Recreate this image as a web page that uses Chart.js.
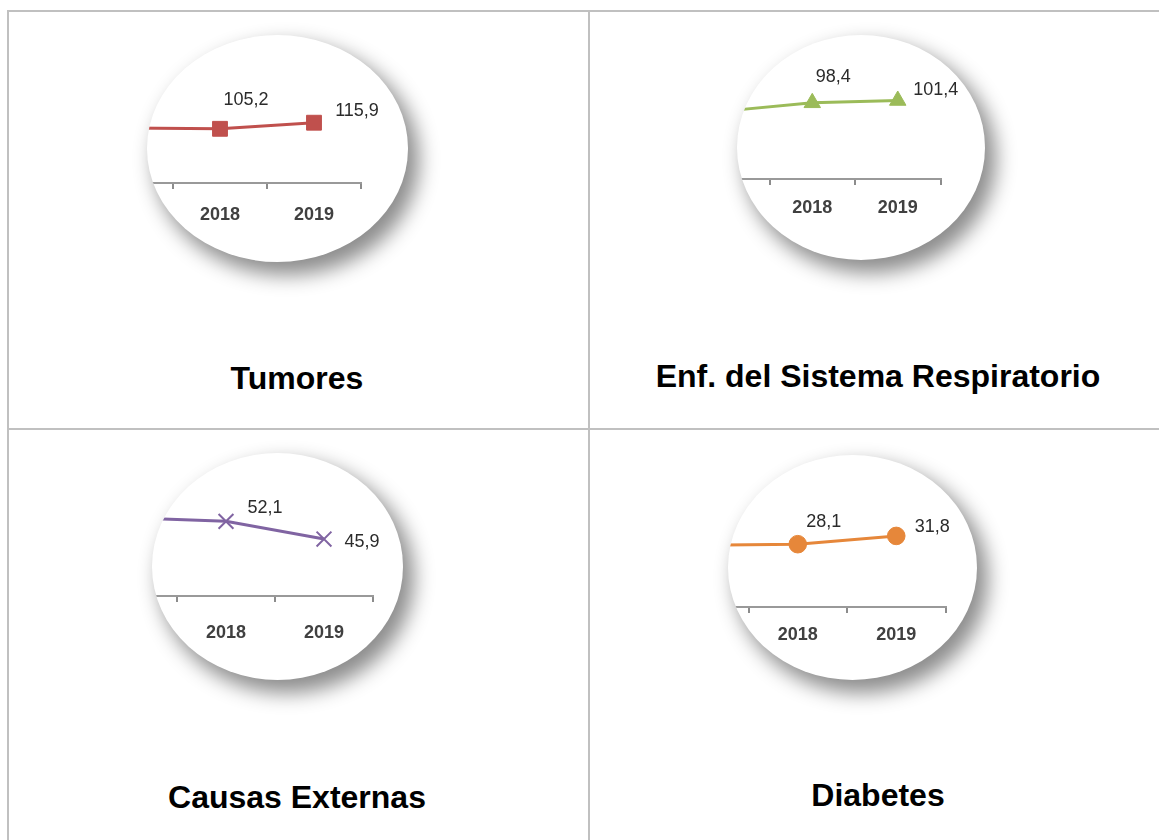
<!DOCTYPE html>
<html lang="es">
<head>
<meta charset="UTF-8">
<title>Tasas de mortalidad por causa</title>
<style>
  body {
    margin: 0;
    width: 1159px;
    height: 840px;
    overflow: hidden;
    position: relative;
    background: #fff;
    font-family: "Liberation Sans", Arial, sans-serif;
  }
  .rule { position: absolute; background: #c0c0c0; }
  .lens {
    position: absolute;
    border-radius: 50%;
    overflow: hidden;
    background: #fff;
    box-shadow: 9px 11px 20px 2px rgba(0, 0, 0, 0.45);
  }
  .lens .wrap { position: absolute; }
  .title {
    position: absolute;
    width: 560px;
    text-align: center;
    font-weight: bold;
    font-size: 32px;
    line-height: 32px;
    color: #000;
  }
</style>
</head>
<body>
  <!-- bordes de la tabla -->
  <div class="rule" style="left:7px;top:10px;width:2px;height:830px"></div>
  <div class="rule" style="left:7px;top:10px;width:1152px;height:2px"></div>
  <div class="rule" style="left:588px;top:10px;width:2px;height:830px"></div>
  <div class="rule" style="left:7px;top:428px;width:1152px;height:2px"></div>

  <div class="lens" id="lens1"><div class="wrap"><canvas id="c1"></canvas></div></div>
  <div class="lens" id="lens2"><div class="wrap"><canvas id="c2"></canvas></div></div>
  <div class="lens" id="lens3"><div class="wrap"><canvas id="c3"></canvas></div></div>
  <div class="lens" id="lens4"><div class="wrap"><canvas id="c4"></canvas></div></div>

  <div class="title" style="left:17px;top:362px">Tumores</div>
  <div class="title" style="left:598px;top:360px">Enf. del Sistema Respiratorio</div>
  <div class="title" style="left:17px;top:781px">Causas Externas</div>
  <div class="title" style="left:598px;top:779px">Diabetes</div>

  <script src="https://cdn.jsdelivr.net/npm/chart.js"></script>
  <script>
    // datos
    const years = ['2017', '2018', '2019'];
    const tumores = [106.5, 105.2, 115.9];
    const respiratorio = [88.0, 98.4, 101.4];
    const externas = [53.4, 52.1, 45.9];
    const diabetes = [27.6, 28.1, 31.8];

    // etiquetas de valor (coma decimal)
    const valueLabels = {
      id: 'valueLabels',
      afterDatasetsDraw(chart, args, opts) {
        const ctx = chart.ctx;
        const meta = chart.getDatasetMeta(0);
        const values = chart.data.datasets[0].data;
        ctx.save();
        ctx.font = '18px "Liberation Sans", Arial, sans-serif';
        ctx.fillStyle = '#2b2b2b';
        ctx.textAlign = 'center';
        ctx.textBaseline = 'middle';
        meta.data.forEach((pt, i) => {
          const s = opts.shifts[i];
          if (!s) return;
          ctx.fillText(values[i].toFixed(1).replace('.', ','), pt.x + s[0], pt.y + s[1]);
        });
        ctx.restore();
      }
    };

    // box: [left, top, width, height] de la lupa; axisRight/axisY/step colocan el eje
    const specs = [
      { id: 'c1', lens: 'lens1', data: tumores, color: '#c0504d', point: 'rect', radius: 10.5,
        box: [147, 35, 261, 227], axisRight: 361, axisY: 183, step: 94, tickPad: 17,
        yMin: 10, yMax: 270, shifts: [null, [26, -29], [43, -12]] },
      { id: 'c2', lens: 'lens2', data: respiratorio, color: '#9bbb59', point: 'triangle', radius: 9.5,
        box: [737, 35, 248, 225], axisRight: 940, axisY: 179, step: 85.5, tickPad: 14,
        yMin: 0, yMax: 186, shifts: [null, [21, -25.5], [38, -10.5]] },
      { id: 'c3', lens: 'lens3', data: externas, color: '#8064a2', point: 'crossRot', radius: 10.5,
        box: [152, 453, 251, 227], axisRight: 373, axisY: 596, step: 98, tickPad: 22,
        yMin: 26, yMax: 76, shifts: [null, [39, -13], [38, 3]] },
      { id: 'c4', lens: 'lens4', data: diabetes, color: '#e6873a', point: 'circle', radius: 8.8,
        box: [728, 455, 249, 225], axisRight: 945, axisY: 607, step: 98.5, tickPad: 13,
        yMin: 0, yMax: 68, shifts: [null, [26, -22], [36, -9]] }
    ];

    const tickLen = 6;
    const fontSize = 18;
    const padRight = 40;

    specs.forEach(spec => {
      const lens = document.getElementById(spec.lens);
      const [bl, bt, bw, bh] = spec.box;
      lens.style.left = bl + 'px';
      lens.style.top = bt + 'px';
      lens.style.width = bw + 'px';
      lens.style.height = bh + 'px';

      const plotW = spec.step * years.length;
      const scaleH = tickLen + fontSize + 2 * spec.tickPad;
      const wrap = lens.querySelector('.wrap');
      wrap.style.left = (spec.axisRight - plotW - bl) + 'px';
      wrap.style.top = '0px';
      wrap.style.width = (plotW + padRight) + 'px';
      wrap.style.height = (spec.axisY - bt + scaleH) + 'px';

      new Chart(document.getElementById(spec.id), {
        type: 'line',
        data: {
          labels: years,
          datasets: [{
            data: spec.data,
            borderColor: spec.color,
            backgroundColor: spec.color,
            borderWidth: 3,
            tension: 0,
            clip: false,
            pointStyle: spec.point,
            pointRadius: spec.radius,
            pointBorderWidth: spec.point === 'crossRot' ? 2 : 1,
            pointBackgroundColor: spec.color,
            pointBorderColor: spec.color
          }]
        },
        options: {
          responsive: true,
          maintainAspectRatio: false,
          animation: false,
          layout: { autoPadding: false, padding: { top: 0, left: 0, bottom: 0, right: padRight } },
          plugins: {
            legend: { display: false },
            tooltip: { enabled: false },
            valueLabels: { shifts: spec.shifts }
          },
          scales: {
            y: { display: false, min: spec.yMin, max: spec.yMax },
            x: {
              offset: true,
              grid: { offset: true, drawOnChartArea: false, tickLength: tickLen, color: '#8c8c8c', lineWidth: 2 },
              border: { color: '#999', width: 2 },
              ticks: {
                padding: spec.tickPad,
                color: '#404040',
                font: { family: '"Liberation Sans", Arial, sans-serif', size: fontSize, weight: 'bold', lineHeight: 1 }
              }
            }
          }
        },
        plugins: [valueLabels]
      });
    });
  </script>
</body>
</html>
